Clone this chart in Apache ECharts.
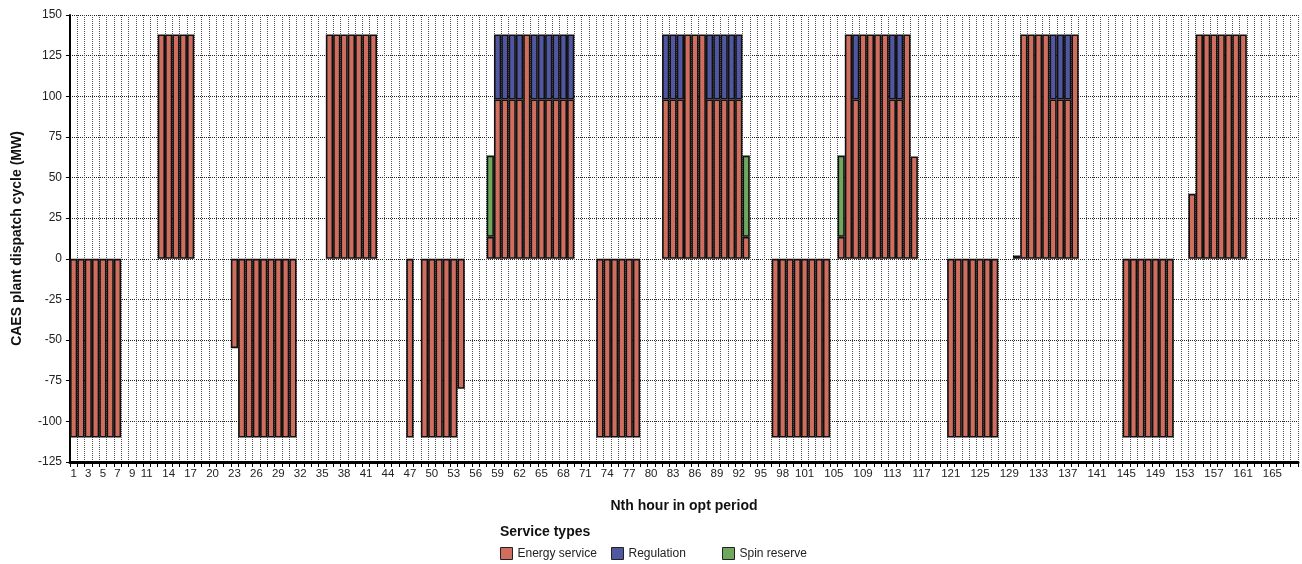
<!DOCTYPE html>
<html>
<head>
<meta charset="utf-8">
<script src="https://cdn.jsdelivr.net/npm/echarts@6/dist/echarts.min.js"></script>
<style>
  html, body { margin: 0; padding: 0; background: #fff; }
  #chart { width: 1302px; height: 564px; }
</style>
</head>
<body>
<div id="chart"></div>
<script>
// hour of the optimisation period, 1..168
var hours = [];
for (var h = 1; h <= 168; h++) hours.push(String(h));

// x labels that the original shows
var shownLabels = [1, 3, 5, 7, 9, 11, 14, 17, 20, 23, 26, 29, 32, 35, 38, 41, 44, 47, 50, 53, 56, 59, 62, 65, 68, 71,
  74, 77, 80, 83, 86, 89, 92, 95, 98, 101, 105, 109, 113, 117, 121, 125, 129, 133, 137, 141, 145, 149, 153, 157, 161, 165];

// MW, one row per day (24 h)
var energyService = [
  -110, -110, -110, -110, -110, -110, -110, 0, 0, 0, 0, 0, 138, 138, 138, 138, 138, 0, 0, 0, 0, 0, -55, -110,
  -110, -110, -110, -110, -110, -110, -110, 0, 0, 0, 0, 138, 138, 138, 138, 138, 138, 138, 0, 0, 0, 0, -110, 0,
  -110, -110, -110, -110, -110, -80, 0, 0, 0, 13.5, 98, 98, 98, 98, 138, 98, 98, 98, 98, 98, 98, 0, 0, 0,
  -110, -110, -110, -110, -110, -110, 0, 0, 0, 98, 98, 98, 138, 138, 138, 98, 98, 98, 98, 98, 13.5, 0, 0, 0,
  -110, -110, -110, -110, -110, -110, -110, -110, 0, 13.5, 138, 98, 138, 138, 138, 138, 98, 98, 138, 63, 0, 0, 0, 0,
  -110, -110, -110, -110, -110, -110, -110, 0, 0, 2, 138, 138, 138, 138, 98, 98, 98, 138, 0, 0, 0, 0, 0, 0,
  -110, -110, -110, -110, -110, -110, -110, 0, 0, 40, 138, 138, 138, 138, 138, 138, 138, 0, 0, 0, 0, 0, 0, 0
];

var regulation = [
  0, 0, 0, 0, 0, 0, 0, 0, 0, 0, 0, 0, 0, 0, 0, 0, 0, 0, 0, 0, 0, 0, 0, 0,
  0, 0, 0, 0, 0, 0, 0, 0, 0, 0, 0, 0, 0, 0, 0, 0, 0, 0, 0, 0, 0, 0, 0, 0,
  0, 0, 0, 0, 0, 0, 0, 0, 0, 0, 40, 40, 40, 40, 0, 40, 40, 40, 40, 40, 40, 0, 0, 0,
  0, 0, 0, 0, 0, 0, 0, 0, 0, 40, 40, 40, 0, 0, 0, 40, 40, 40, 40, 40, 0, 0, 0, 0,
  0, 0, 0, 0, 0, 0, 0, 0, 0, 0, 0, 40, 0, 0, 0, 0, 40, 40, 0, 0, 0, 0, 0, 0,
  0, 0, 0, 0, 0, 0, 0, 0, 0, 0, 0, 0, 0, 0, 40, 40, 40, 0, 0, 0, 0, 0, 0, 0,
  0, 0, 0, 0, 0, 0, 0, 0, 0, 0, 0, 0, 0, 0, 0, 0, 0, 0, 0, 0, 0, 0, 0, 0
];

var spinReserve = [
  0, 0, 0, 0, 0, 0, 0, 0, 0, 0, 0, 0, 0, 0, 0, 0, 0, 0, 0, 0, 0, 0, 0, 0,
  0, 0, 0, 0, 0, 0, 0, 0, 0, 0, 0, 0, 0, 0, 0, 0, 0, 0, 0, 0, 0, 0, 0, 0,
  0, 0, 0, 0, 0, 0, 0, 0, 0, 50, 0, 0, 0, 0, 0, 0, 0, 0, 0, 0, 0, 0, 0, 0,
  0, 0, 0, 0, 0, 0, 0, 0, 0, 0, 0, 0, 0, 0, 0, 0, 0, 0, 0, 0, 50, 0, 0, 0,
  0, 0, 0, 0, 0, 0, 0, 0, 0, 50, 0, 0, 0, 0, 0, 0, 0, 0, 0, 0, 0, 0, 0, 0,
  0, 0, 0, 0, 0, 0, 0, 0, 0, 0, 0, 0, 0, 0, 0, 0, 0, 0, 0, 0, 0, 0, 0, 0,
  0, 0, 0, 0, 0, 0, 0, 0, 0, 0, 0, 0, 0, 0, 0, 0, 0, 0, 0, 0, 0, 0, 0, 0
];

var seriesNames = ['Energy service', 'Regulation', 'Spin reserve'];
var seriesColors = ['#cf6e5f', '#5156a0', '#6da85c'];

var font = '"Liberation Sans", Arial, sans-serif';

// zero hours are left empty so no flat bar is drawn
function noZero(arr) {
  return arr.map(function (v) { return v === 0 ? '-' : v; });
}

function barSeries(name, data, color) {
  return {
    name: name,
    type: 'bar',
    stack: 'mw',
    barCategoryGap: 0,
    data: noZero(data),
    itemStyle: { color: color, borderColor: '#111', borderWidth: 1.6 }
  };
}

// one legend per item so they sit at even spacing like the original
function legendItem(name, left) {
  return {
    left: left,
    top: 547,
    padding: 0,
    itemWidth: 12,
    itemHeight: 12,
    icon: 'rect',
    data: [name],
    itemStyle: { borderColor: '#222', borderWidth: 1 },
    textStyle: { fontSize: 12, color: '#222', fontFamily: font }
  };
}

var myChart = echarts.init(document.getElementById('chart'));

var option = {
  animation: false,
  textStyle: { fontFamily: font },
  title: {
    text: 'Service types',
    left: 500,
    top: 525,
    padding: 0,
    textStyle: { fontSize: 14, fontWeight: 'bold', color: '#111', fontFamily: font }
  },
  legend: [
    legendItem(seriesNames[0], 500),
    legendItem(seriesNames[1], 611),
    legendItem(seriesNames[2], 722)
  ],
  grid: { left: 70, right: 4, top: 15, bottom: 102, outerBoundsMode: 'none' },
  xAxis: {
    type: 'category',
    data: hours,
    name: 'Nth hour in opt period',
    nameLocation: 'middle',
    nameGap: 37,
    nameTextStyle: { fontSize: 14, fontWeight: 'bold', color: '#111' },
    axisLine: { onZero: false, lineStyle: { color: '#000', width: 3 } },
    axisTick: { show: true, interval: 0, length: 5, lineStyle: { color: '#000' } },
    axisLabel: {
      interval: function (index, value) { return shownLabels.indexOf(+value) >= 0; },
      fontSize: 11.5,
      color: '#222',
      margin: 6
    },
    splitLine: { show: true, interval: 0, lineStyle: { type: 'dotted', color: '#555', width: 1 } }
  },
  yAxis: {
    type: 'value',
    min: -125,
    max: 150,
    interval: 25,
    name: 'CAES plant dispatch cycle (MW)',
    nameLocation: 'middle',
    nameGap: 46,
    nameTextStyle: { fontSize: 14, fontWeight: 'bold', color: '#111' },
    axisLine: { show: true, lineStyle: { color: '#000', width: 2 } },
    axisTick: { show: true, length: 4, lineStyle: { color: '#000' } },
    axisLabel: { fontSize: 12, color: '#222', margin: 8 },
    splitLine: { show: true, lineStyle: { type: 'dotted', color: '#222', width: 1 } }
  },
  series: [
    barSeries(seriesNames[0], energyService, seriesColors[0]),
    barSeries(seriesNames[1], regulation, seriesColors[1]),
    barSeries(seriesNames[2], spinReserve, seriesColors[2])
  ]
};

myChart.setOption(option);
</script>
</body>
</html>
